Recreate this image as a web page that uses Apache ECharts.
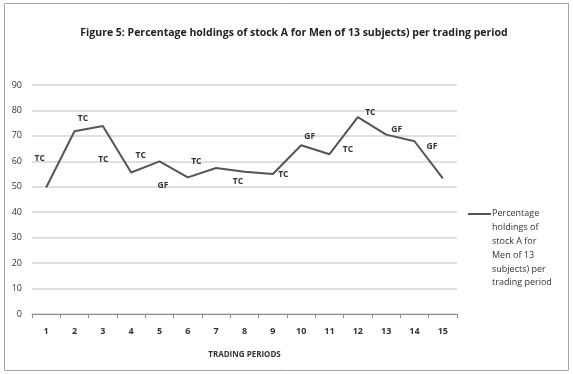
<!DOCTYPE html>
<html>
<head>
<meta charset="utf-8">
<script src="https://cdn.jsdelivr.net/npm/echarts@6/dist/echarts.min.js"></script>
<style>
  html, body { margin: 0; padding: 0; background: #fff; }
  #chart { width: 573px; height: 374px; }
</style>
</head>
<body>
<div id="chart"></div>
<script>
// Trading periods and the percentage holdings per period
const periods = ['1','2','3','4','5','6','7','8','9','10','11','12','13','14','15'];
const holdings = [49.7, 71.8, 73.9, 55.6, 60.0, 53.7, 57.4, 55.9, 55.0, 66.3, 62.8, 77.4, 70.5, 67.9, 53.3];
// Annotation per period (TC / GF), empty where nothing is written
const tags = ['TC','TC','TC','TC','GF','TC','','TC','TC','GF','TC','TC','GF','GF',''];
const yTicks = [0, 10, 20, 30, 40, 50, 60, 70, 80, 90];

const titleText = 'Figure 5: Percentage holdings of stock A for Men of 13 subjects) per trading period';
const seriesName = 'Percentage\nholdings of\nstock A for\nMen of 13\nsubjects) per\ntrading period';
const axisName = 'TRADING PERIODS';

// Offsets of each annotation from its point (pixels)
const tagOffsets = [
  [-6, -28], [9, -12], [1, 34], [10, -16], [4, 25], [9, -15], [0, 0],
  [-6, 10], [11, 1], [9, -8], [19, -4], [13, -4], [11, -5], [18, 6], [0, 0]
];

const FONT = '"Open Sans", "Noto Sans", sans-serif';

const chart = echarts.init(document.getElementById('chart'));

const data = holdings.map((v, i) => ({
  value: v,
  label: {
    show: tags[i] !== '',
    formatter: tags[i],
    position: tagOffsets[i],
    align: 'center',
    verticalAlign: 'middle'
  }
}));

chart.setOption({
  animation: false,
  backgroundColor: '#fff',
  title: {
    text: titleText,
    left: 289,
    textAlign: 'center',
    top: 23,
    textStyle: { fontFamily: FONT, fontSize: 10.5, fontWeight: 'bold', color: '#222' }
  },
  grid: { left: 32, right: 116, top: 85, bottom: 60 },
  xAxis: {
    type: 'category',
    data: periods,
    boundaryGap: true,
    name: axisName,
    nameLocation: 'middle',
    nameGap: 37,
    nameTextStyle: { fontFamily: FONT, fontSize: 8, fontWeight: 'bold', color: '#333' },
    axisLine: { lineStyle: { color: '#8c8c8c', width: 1 } },
    axisTick: { show: true, alignWithLabel: false, length: 4, lineStyle: { color: '#8c8c8c' } },
    axisLabel: { fontFamily: FONT, fontSize: 9, fontWeight: 'bold', color: '#333', margin: 13 }
  },
  yAxis: {
    type: 'value',
    min: yTicks[0],
    max: yTicks[yTicks.length - 1],
    interval: yTicks[1] - yTicks[0],
    axisLine: { show: false },
    axisTick: { show: false },
    axisLabel: { fontFamily: FONT, fontSize: 9, color: '#333', margin: 10 },
    splitLine: { lineStyle: { color: '#d4d4d4', width: 1.5 } }
  },
  series: [{
    name: seriesName,
    type: 'line',
    data: data,
    symbol: 'circle',
    symbolSize: 1,
    showSymbol: true,
    itemStyle: { color: 'rgba(0,0,0,0)' },
    lineStyle: { color: '#555', width: 2 },
    label: { show: true, fontFamily: FONT, fontSize: 8.5, fontWeight: 'bold', color: '#333' },
    labelLayout: { hideOverlap: false }
  }],
  graphic: [
    {
      type: 'rect',
      shape: { x: 4.5, y: 3.5, width: 564, height: 367 },
      style: { fill: 'none', stroke: '#a6a6a6', lineWidth: 1 },
      silent: true
    },
    {
      type: 'line',
      shape: { x1: 468, y1: 214, x2: 491, y2: 214 },
      style: { stroke: '#555', lineWidth: 2 }
    },
    {
      type: 'text',
      left: 492,
      top: 207,
      style: {
        text: seriesName,
        fontFamily: FONT,
        fontSize: 9,
        lineHeight: 13.8,
        fill: '#333'
      }
    }
  ]
});
</script>
</body>
</html>
